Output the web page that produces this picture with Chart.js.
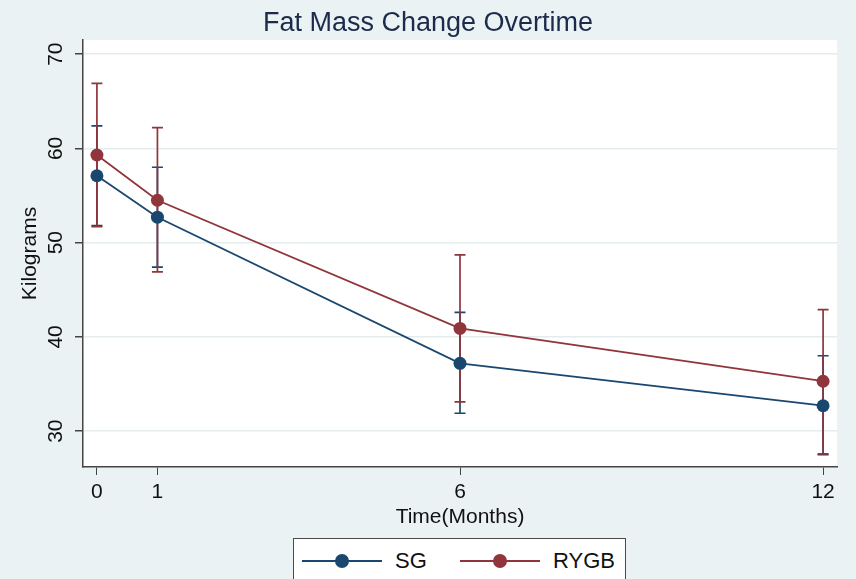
<!DOCTYPE html>
<html lang="en">
<head>
    <meta charset="UTF-8">
    <title>Fat Mass Change Overtime</title>
    <script src="https://cdn.jsdelivr.net/npm/chart.js"></script>
    <style>
        html, body { margin: 0; padding: 0; background: #eaf2f3; overflow: hidden; }
        #wrap { position: relative; width: 856px; height: 579px; }
        #legend {
            position: absolute; left: 293px; top: 538px; width: 333px; height: 50px;
            background: #fff; border: 1.5px solid #4a4a4a; box-sizing: border-box;
            font-family: "Liberation Sans", Arial, Helvetica, sans-serif; font-size: 22px; color: #111;
        }
        .item { position: absolute; top: 0; height: 44px; display: flex; align-items: center; }
        .sym { position: relative; width: 80px; height: 14px; margin-right: 13px; }
        .sym .ln { position: absolute; left: 0; right: 0; top: 6px; height: 1.5px; }
        .sym .dot { position: absolute; left: 33px; top: 0; width: 14px; height: 14px; border-radius: 50%; }
    </style>
</head>
<body>
<div id="wrap">
    <canvas id="fatChart" width="856" height="579"></canvas>
    <div id="legend"></div>
</div>

<script>
    // данные
    const months = [0, 1, 6, 12];
    const seriesNames = ['SG', 'RYGB'];
    const sgMean = [57.1, 52.7, 37.2, 32.7];
    const sgLow = [51.8, 47.4, 31.9, 27.5];
    const sgHigh = [62.4, 58.0, 42.6, 38.0];
    const rygbMean = [59.3, 54.5, 40.9, 35.3];
    const rygbLow = [51.7, 46.9, 33.1, 27.6];
    const rygbHigh = [66.9, 62.2, 48.7, 42.9];
    const yTicks = [30, 40, 50, 60, 70];
    const chartTitle = 'Fat Mass Change Overtime';

    const colors = ['#1a476f', '#90353b'];
    const lows = [sgLow, rygbLow];
    const highs = [sgHigh, rygbHigh];
    const font = '"Liberation Sans", Arial, Helvetica, sans-serif';

    const toPoints = arr => arr.map((v, i) => ({ x: months[i], y: v }));

    // белая область графика + заголовок по центру всего холста
    const plotBg = {
        id: 'plotBg',
        beforeDraw(chart) {
            const { ctx, chartArea: a } = chart;
            ctx.save();
            ctx.fillStyle = '#ffffff';
            ctx.fillRect(a.left, a.top, a.right - a.left, a.bottom - a.top);
            ctx.fillStyle = '#1c2b4c';
            ctx.font = '27px ' + font;
            ctx.textAlign = 'center';
            ctx.textBaseline = 'alphabetic';
            ctx.fillText(chartTitle, chart.width / 2, 31);
            ctx.restore();
        }
    };

    // доверительные интервалы
    const errorBars = {
        id: 'errorBars',
        beforeDatasetsDraw(chart) {
            const { ctx, scales: { x, y } } = chart;
            ctx.save();
            ctx.lineWidth = 1.7;
            [0, 1].forEach(s => {
                ctx.strokeStyle = colors[s];
                months.forEach((m, i) => {
                    const px = x.getPixelForValue(m);
                    const top = y.getPixelForValue(highs[s][i]);
                    const bot = y.getPixelForValue(lows[s][i]);
                    ctx.beginPath();
                    ctx.moveTo(px, top); ctx.lineTo(px, bot);
                    ctx.moveTo(px - 5.5, top); ctx.lineTo(px + 5.5, top);
                    ctx.moveTo(px - 5.5, bot); ctx.lineTo(px + 5.5, bot);
                    ctx.stroke();
                });
            });
            ctx.restore();
        }
    };

    new Chart(document.getElementById('fatChart').getContext('2d'), {
        type: 'line',
        data: {
            datasets: [sgMean, rygbMean].map((d, s) => ({
                label: seriesNames[s],
                data: toPoints(d),
                borderColor: colors[s],
                backgroundColor: colors[s],
                borderWidth: 1.8,
                pointRadius: 6.5,
                pointHoverRadius: 6.5,
                pointBorderWidth: 0,
                tension: 0
            }))
        },
        options: {
            responsive: false,
            animation: false,
            layout: { padding: { left: 0, right: 19, top: 40, bottom: 49 } },
            plugins: {
                legend: { display: false },
                tooltip: { enabled: false },
                title: { display: false }
            },
            scales: {
                x: {
                    type: 'linear',
                    min: -0.23,
                    max: 12.23,
                    afterBuildTicks: s => { s.ticks = months.map(v => ({ value: v })); },
                    afterFit: s => { s.height = 63; },
                    grid: { drawOnChartArea: false, drawTicks: true, tickLength: 8, tickColor: '#444' },
                    border: { display: true, color: '#444', width: 1.5 },
                    ticks: { color: '#111', font: { family: font, size: 21 }, padding: 5, maxRotation: 0 },
                    title: {
                        display: true, text: 'Time(Months)', color: '#111',
                        font: { family: font, size: 21 }, padding: { top: 0, bottom: 0 }
                    }
                },
                y: {
                    min: 26.2,
                    max: 71.5,
                    afterBuildTicks: s => { s.ticks = yTicks.map(v => ({ value: v })); },
                    afterFit: s => { s.width = 83; s.paddingTop = 0; s.paddingBottom = 0; },
                    grid: { color: '#e4ecee', lineWidth: 1.5, tickLength: 8, tickColor: '#444' },
                    border: { display: true, color: '#444', width: 1.5 },
                    ticks: {
                        color: '#111', font: { family: font, size: 21 }, padding: 7,
                        minRotation: 90, maxRotation: 90, crossAlign: 'center'
                    },
                    title: {
                        display: true, text: 'Kilograms', color: '#111',
                        font: { family: font, size: 21 }, padding: { top: 18, bottom: 0 }
                    }
                }
            }
        },
        plugins: [plotBg, errorBars]
    });

    // легенда в рамке
    const legendEl = document.getElementById('legend');
    const itemLeft = [8, 166];
    seriesNames.forEach((name, s) => {
        const item = document.createElement('div');
        item.className = 'item';
        item.style.left = itemLeft[s] + 'px';
        item.innerHTML = '<div class="sym"><div class="ln" style="background:' + colors[s] + '"></div>' +
            '<div class="dot" style="background:' + colors[s] + '"></div></div><span>' + name + '</span>';
        legendEl.appendChild(item);
    });
</script>
</body>
</html>
